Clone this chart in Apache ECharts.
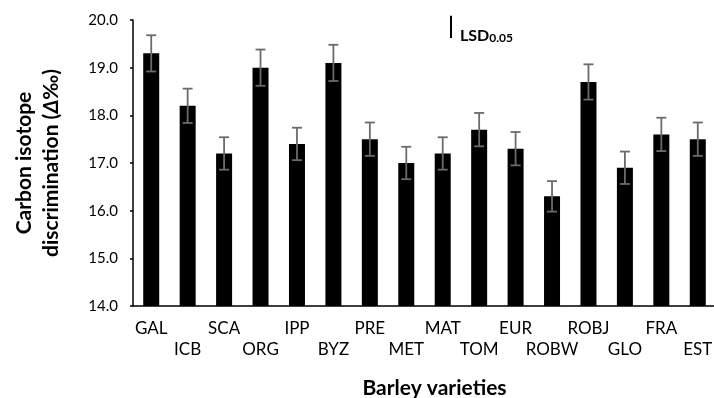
<!DOCTYPE html>
<html>
<head>
<meta charset="utf-8">
<script src="https://cdn.jsdelivr.net/npm/echarts@6/dist/echarts.min.js"></script>
<style>
  html, body { margin: 0; padding: 0; background: #fff; }
  #chart { width: 714px; height: 398px; }
</style>
</head>
<body>
<div id="chart"></div>
<script>
// Barley varieties and their mean carbon isotope discrimination (Δ‰)
const varieties = ['GAL', 'ICB', 'SCA', 'ORG', 'IPP', 'BYZ', 'PRE', 'MET', 'MAT', 'TOM', 'EUR', 'ROBW', 'ROBJ', 'GLO', 'FRA', 'EST'];
const meanDelta = [19.3, 18.2, 17.2, 19.0, 17.4, 19.1, 17.5, 17.0, 17.2, 17.7, 17.3, 16.3, 18.7, 16.9, 17.6, 17.5];
const stdError  = [0.38, 0.36, 0.34, 0.38, 0.34, 0.38, 0.35, 0.34, 0.34, 0.35, 0.35, 0.32, 0.37, 0.34, 0.35, 0.35];
const yTicks = [14, 15, 16, 17, 18, 19, 20];
const lsd05 = 0.47;       // least significant difference, P = 0.05
const lsdTop = 20.09;     // upper end of the LSD bar

const FONT = 'Lato, "Open Sans", sans-serif';
const chart = echarts.init(document.getElementById('chart'), null, { renderer: 'canvas' });

const errData = varieties.map((v, i) => [i, meanDelta[i] - stdError[i], meanDelta[i] + stdError[i]]);

chart.setOption({
  animation: false,
  backgroundColor: '#ffffff',
  grid: { left: 133, top: 20, width: 583, height: 286, containLabel: false, outerBoundsMode: 'none' },
  xAxis: {
    type: 'category',
    data: varieties,
    axisLine: { lineStyle: { color: '#000', width: 1.5 } },
    axisTick: { show: false },
    axisLabel: {
      interval: 0,
      margin: 12,
      color: '#000',
      fontFamily: FONT,
      fontSize: 17,
      lineHeight: 21,
      formatter: (val, idx) => (idx % 2 === 1 ? '\n' + val : val)
    },
    name: 'Barley varieties',
    nameLocation: 'middle',
    nameGap: 72,
    nameTextStyle: { color: '#000', fontFamily: FONT, fontSize: 21, fontWeight: 'bold', padding: [0, 0, 0, 20] }
  },
  yAxis: {
    type: 'value',
    min: yTicks[0],
    max: yTicks[yTicks.length - 1],
    interval: 1,
    axisLine: { show: true, lineStyle: { color: '#000', width: 1.5 } },
    axisTick: { show: true, length: 3, lineStyle: { color: '#000', width: 1.5 } },
    splitLine: { show: false },
    axisLabel: {
      color: '#000',
      fontFamily: FONT,
      fontSize: 15,
      margin: 15,
      formatter: v => v.toFixed(1)
    },
    name: '{b|Carbon isotope}\n{b|discrimination (}{i|Δ}{b|‰)}',
    nameLocation: 'middle',
    nameRotate: 90,
    nameGap: 68,
    nameTextStyle: {
      lineHeight: 27,
      rich: {
        b: { fontFamily: FONT, fontSize: 21, fontWeight: 'bold', color: '#000', lineHeight: 27 },
        i: { fontFamily: FONT, fontSize: 21, fontWeight: 'bold', fontStyle: 'italic', color: '#000', lineHeight: 27 }
      }
    }
  },
  series: [
    {
      type: 'bar',
      data: meanDelta,
      barWidth: 16,
      itemStyle: { color: '#000' },
      z: 2
    },
    {
      type: 'custom',
      data: errData,
      z: 3,
      renderItem: (params, api) => {
        const x = api.value(0);
        const lo = api.coord([x, api.value(1)]);
        const hi = api.coord([x, api.value(2)]);
        const half = 5;
        const style = { stroke: '#6b6b6b', lineWidth: 1.8 };
        return {
          type: 'group',
          children: [
            { type: 'line', shape: { x1: hi[0], y1: hi[1], x2: lo[0], y2: lo[1] }, style },
            { type: 'line', shape: { x1: hi[0] - half, y1: hi[1], x2: hi[0] + half, y2: hi[1] }, style },
            { type: 'line', shape: { x1: lo[0] - half, y1: lo[1], x2: lo[0] + half, y2: lo[1] }, style }
          ]
        };
      }
    }
  ]
});

// LSD bar, its length taken from the y scale
const yTop = chart.convertToPixel({ yAxisIndex: 0 }, lsdTop);
const yBot = chart.convertToPixel({ yAxisIndex: 0 }, lsdTop - lsd05);
const lsdX = 451;
chart.setOption({
  graphic: [
    { type: 'line', shape: { x1: lsdX, y1: yTop, x2: lsdX, y2: yBot }, style: { stroke: '#000', lineWidth: 2 } },
    {
      type: 'text',
      x: lsdX + 9,
      y: yBot + 6,
      style: {
        text: '{m|LSD}{s|0.05}',
        verticalAlign: 'bottom',
        rich: {
          m: { fontFamily: FONT, fontSize: 16, fontWeight: 'bold', fill: '#000', verticalAlign: 'bottom' },
          s: { fontFamily: FONT, fontSize: 12, fontWeight: 'bold', fill: '#000', padding: [7, 0, 0, 0], verticalAlign: 'bottom' }
        }
      }
    }
  ]
});
</script>
</body>
</html>
